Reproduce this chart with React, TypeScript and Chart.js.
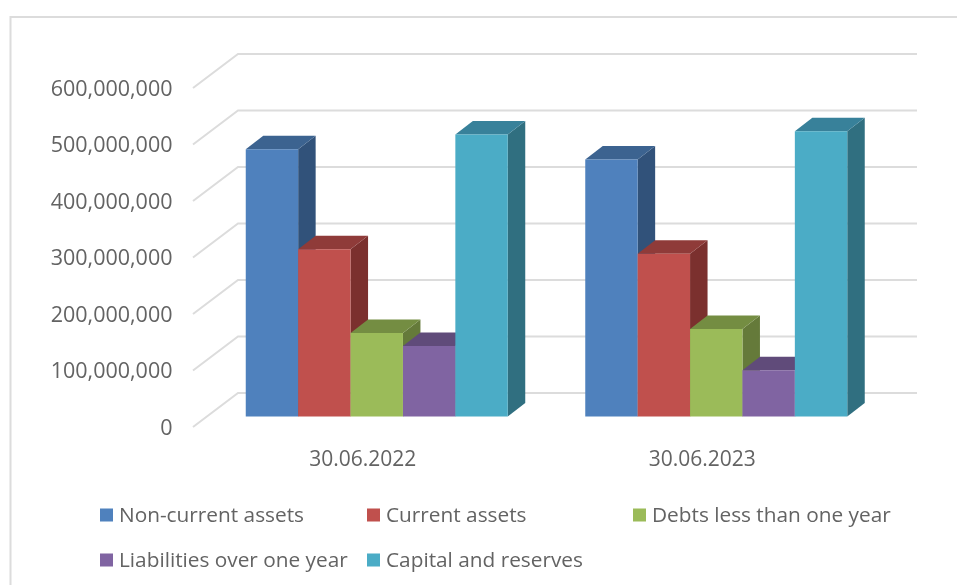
import React, { useEffect, useRef } from "react";
import { Chart, registerables } from "chart.js";

Chart.register(...registerables);

const categories = ["30.06.2022", "30.06.2023"];
const nonCurrentAssets = [473000000, 455000000];
const currentAssets = [296000000, 288000000];
const debtsLessThanOneYear = [148000000, 155000000];
const liabilitiesOverOneYear = [125000000, 82000000];
const capitalAndReserves = [499000000, 505000000];
const seriesNames = ["Non-current assets", "Current assets", "Debts less than one year", "Liabilities over one year", "Capital and reserves"];
const frontColors = ["#4f81bd", "#c0504d", "#9bbb59", "#8064a2", "#4bacc6"];
const topColors = ["#3c6390", "#8f3b39", "#748d42", "#604b7a", "#38819a"];
const sideColors = ["#31527a", "#7b302e", "#657a3a", "#533f6a", "#306f80"];

const FONT = "'Open Sans', sans-serif";
const TEXT = "#636363";
const LINE = "#dcdcdc";

const barDepth = { dx: 17.5, dy: -13.5 };
const wall = { frontDx: -14, frontDy: 10.5, backDx: 31, backDy: -23.5 };

const scene = {
  id: "scene",
  beforeDraw(chart: any) {
    const { ctx } = chart;
    ctx.save();
    ctx.strokeStyle = LINE;
    ctx.lineWidth = 2;
    ctx.beginPath();
    ctx.moveTo(10.5, 585);
    ctx.lineTo(10.5, 17);
    ctx.lineTo(957, 17);
    ctx.stroke();
    ctx.restore();
  },
  beforeDatasetsDraw(chart: any) {
    const { ctx, chartArea, scales } = chart;
    ctx.save();
    ctx.strokeStyle = LINE;
    ctx.lineWidth = 2;
    scales.y.ticks.forEach((t: any) => {
      const y = scales.y.getPixelForValue(t.value);
      ctx.beginPath();
      ctx.moveTo(chartArea.left + wall.frontDx, y + wall.frontDy);
      ctx.lineTo(chartArea.left + wall.backDx, y + wall.backDy);
      ctx.lineTo(chartArea.right + wall.backDx, y + wall.backDy);
      ctx.stroke();
    });
    ctx.restore();

    chart.getSortedVisibleDatasetMetas().forEach((meta: any) => {
      meta.data.forEach((bar: any) => {
        const { x, y, base, width } = bar;
        const l = x - width / 2;
        const r = x + width / 2;
        ctx.save();
        ctx.fillStyle = sideColors[meta.index];
        ctx.beginPath();
        ctx.moveTo(r, y);
        ctx.lineTo(r + barDepth.dx, y + barDepth.dy);
        ctx.lineTo(r + barDepth.dx, base + barDepth.dy);
        ctx.lineTo(r, base);
        ctx.closePath();
        ctx.fill();
        ctx.fillStyle = topColors[meta.index];
        ctx.beginPath();
        ctx.moveTo(l, y);
        ctx.lineTo(l + barDepth.dx, y + barDepth.dy);
        ctx.lineTo(r + barDepth.dx, y + barDepth.dy);
        ctx.lineTo(r, y);
        ctx.closePath();
        ctx.fill();
        ctx.restore();
      });
      meta.controller.draw();
    });
    return false;
  },
  afterDraw(chart: any) {
    const { ctx } = chart;
    const columns = [100, 367, 633];
    const rows = [515, 560];
    ctx.save();
    ctx.font = `20.8px ${FONT}`;
    ctx.textBaseline = "middle";
    ctx.textAlign = "left";
    chart.data.datasets.forEach((ds: any, i: number) => {
      const cx = columns[i % 3];
      const cy = rows[Math.floor(i / 3)];
      ctx.fillStyle = ds.backgroundColor;
      ctx.fillRect(cx, cy - 6.5, 13, 13);
      ctx.fillStyle = TEXT;
      ctx.fillText(ds.label, cx + 19, cy + 1.5);
    });
    ctx.restore();
  },
};

export default function App() {
  const ref = useRef<HTMLCanvasElement>(null);
  useEffect(() => {
    document.body.style.margin = "0";
    const values = [nonCurrentAssets, currentAssets, debtsLessThanOneYear, liabilitiesOverOneYear, capitalAndReserves];
    const chart = new Chart(ref.current!, {
      type: "bar",
      data: {
        labels: categories,
        datasets: values.map((data, i) => ({
          label: seriesNames[i],
          data,
          backgroundColor: frontColors[i],
          borderWidth: 0,
          barPercentage: 1,
          categoryPercentage: 0.7717,
        })),
      },
      options: {
        responsive: false,
        animation: false,
        layout: { padding: { left: 7, right: 71, top: 77.5, bottom: 68.5 } },
        plugins: { legend: { display: false }, tooltip: { enabled: false }, title: { display: false } },
        scales: {
          x: {
            grid: { display: false },
            border: { display: false },
            afterFit: (s: any) => { s.height = 100; },
            ticks: { color: TEXT, font: { family: FONT, size: 21 }, labelOffset: -14, padding: 22.5, maxRotation: 0 },
          },
          y: {
            min: 0,
            max: 600000000,
            grid: { display: false, drawTicks: false },
            border: { display: false },
            afterFit: (s: any) => { s.width = 200; },
            ticks: {
              stepSize: 100000000,
              color: TEXT,
              font: { family: FONT, size: 21.5 },
              labelOffset: 12,
              padding: 34.5,
              callback: (v: any) => Number(v).toLocaleString("en-US"),
            },
          },
        },
      } as any,
      plugins: [scene as any],
    });
    return () => chart.destroy();
  }, []);
  return <canvas ref={ref} width={957} height={585} style={{ display: "block" }} />;
}
